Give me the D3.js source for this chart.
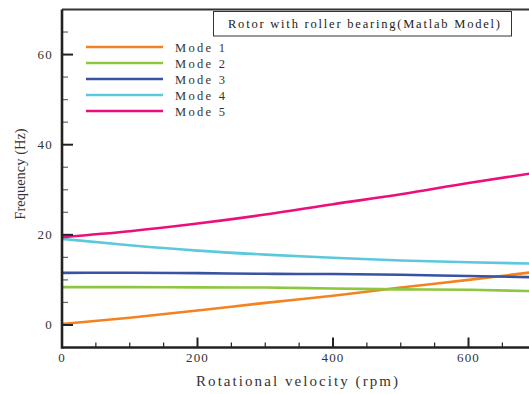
<!DOCTYPE html>
<html><head><meta charset="utf-8">
<script src="https://cdn.jsdelivr.net/npm/d3@7"></script>
<style>body{margin:0;background:#fff;overflow:hidden}svg{display:block}</style>
</head><body>
<script>
const rpm = [0, 100, 200, 300, 400, 500, 600, 700];
const mode1 = [0.2, 1.6, 3.2, 4.9, 6.5, 8.3, 10.0, 11.8];
const mode2 = [8.4, 8.4, 8.35, 8.3, 8.1, 7.9, 7.8, 7.5];
const mode3 = [11.55, 11.6, 11.5, 11.35, 11.3, 11.15, 10.85, 10.6];
const mode4 = [19.1, 17.7, 16.5, 15.6, 14.9, 14.3, 13.9, 13.6];
const mode5 = [19.5, 20.8, 22.5, 24.5, 26.8, 29.0, 31.5, 33.8];
const seriesNames = ["Mode 1", "Mode 2", "Mode 3", "Mode 4", "Mode 5"];
const seriesColors = ["#f58220", "#8dc63f", "#3953a4", "#5bc8dc", "#ec0f7b"];
const xTicks = [0, 200, 400, 600];
const yTicks = [0, 20, 40, 60];
const titleText = "Rotor with roller bearing(Matlab Model)";
const xLabel = "Rotational velocity (rpm)";
const yLabel = "Frequency (Hz)";

const W = 529, H = 394;
const svg = d3.select("body").append("svg").attr("width", W).attr("height", H);
const font = "'Liberation Serif', 'Times New Roman', serif";

const x = d3.scaleLinear().domain([0, 700]).range([62, 62 + 700 * 135.5 / 200]);
const y = d3.scaleLinear().domain([-5, 70]).range([347.5, 9.5]);

// curves
const allSeries = [mode1, mode2, mode3, mode4, mode5];
const line = d3.line().x((d, i) => x(rpm[i])).y(d => y(d)).curve(d3.curveMonotoneX);
svg.append("defs").append("clipPath").attr("id", "clip")
  .append("rect").attr("x", 62).attr("y", 9).attr("width", W - 62).attr("height", 340);
const g = svg.append("g").attr("clip-path", "url(#clip)");
allSeries.forEach((s, i) => {
  g.append("path").attr("d", line(s)).attr("fill", "none")
    .attr("stroke", seriesColors[i]).attr("stroke-width", 2.6);
});

// axes with inward ticks
const xAxis = d3.axisBottom(x).tickValues(d3.range(0, 701, 50)).tickSize(0).tickFormat("");
const xg = svg.append("g").attr("transform", `translate(0,${y(-5)})`).call(xAxis);
xg.select(".domain").remove();
d3.range(0, 701, 50).forEach(v => {
  const major = v % 200 === 0;
  svg.append("line").attr("x1", x(v)).attr("x2", x(v))
    .attr("y1", y(-5)).attr("y2", y(-5) - (major ? 10 : 5))
    .attr("stroke", "#222").attr("stroke-width", major ? 2 : 1.2);
});
xTicks.forEach(v => {
  svg.append("text").attr("x", x(v)).attr("y", 362).attr("text-anchor", "middle")
    .attr("font-family", font).attr("font-size", 13).attr("letter-spacing", 1.2)
    .attr("fill", "#333").text(v);
});
const yAxis = d3.axisLeft(y).tickValues(d3.range(-5, 71, 5)).tickSize(0).tickFormat("");
const yg = svg.append("g").attr("transform", "translate(62,0)").call(yAxis);
yg.select(".domain").remove();
d3.range(-5, 71, 5).forEach(v => {
  if (v === -5 || v === 70) return;
  const major = v % 20 === 0;
  svg.append("line").attr("x1", 62).attr("x2", 62 + (major ? 11 : 6))
    .attr("y1", y(v)).attr("y2", y(v))
    .attr("stroke", major ? "#222" : "#666").attr("stroke-width", major ? 2 : 1.2);
});
yTicks.forEach(v => {
  svg.append("text").attr("x", 53).attr("y", y(v) + 4.5).attr("text-anchor", "end")
    .attr("font-family", font).attr("font-size", 13).attr("letter-spacing", 1.2)
    .attr("fill", "#333").text(v);
});

// frame lines
svg.append("line").attr("x1", 62).attr("x2", W).attr("y1", y(70)).attr("y2", y(70))
  .attr("stroke", "#333").attr("stroke-width", 2);
svg.append("line").attr("x1", 62).attr("x2", W).attr("y1", y(-5)).attr("y2", y(-5))
  .attr("stroke", "#222").attr("stroke-width", 2.6);
svg.append("line").attr("x1", 62).attr("x2", 62).attr("y1", y(70)).attr("y2", y(-5) + 1.3)
  .attr("stroke", "#222").attr("stroke-width", 2.6);

// title box
svg.append("rect").attr("x", 213.5).attr("y", 11.5).attr("width", 298).attr("height", 24.5)
  .attr("fill", "#fff").attr("stroke", "#333").attr("stroke-width", 1);
svg.append("text").attr("x", 228).attr("y", 28).attr("font-family", font).attr("font-size", 12.5)
  .attr("textLength", 272).attr("lengthAdjust", "spacing").attr("fill", "#222").text(titleText);

// legend
seriesNames.forEach((n, i) => {
  const ly = 47 + i * 16;
  svg.append("line").attr("x1", 86).attr("x2", 163).attr("y1", ly).attr("y2", ly)
    .attr("stroke", seriesColors[i]).attr("stroke-width", 2.6);
  svg.append("text").attr("x", 175).attr("y", ly + 4.5).attr("font-family", font)
    .attr("font-size", 12.5).attr("textLength", 50).attr("lengthAdjust", "spacing")
    .attr("fill", "#333").text(n);
});

// axis titles
svg.append("text").attr("x", 196).attr("y", 386).attr("font-family", font).attr("font-size", 15)
  .attr("textLength", 202).attr("lengthAdjust", "spacing").attr("fill", "#333").text(xLabel);
svg.append("text").attr("transform", "translate(25,174) rotate(-90)").attr("text-anchor", "middle")
  .attr("font-family", font).attr("font-size", 14.5).attr("fill", "#333").text(yLabel);
</script>
</body></html>
